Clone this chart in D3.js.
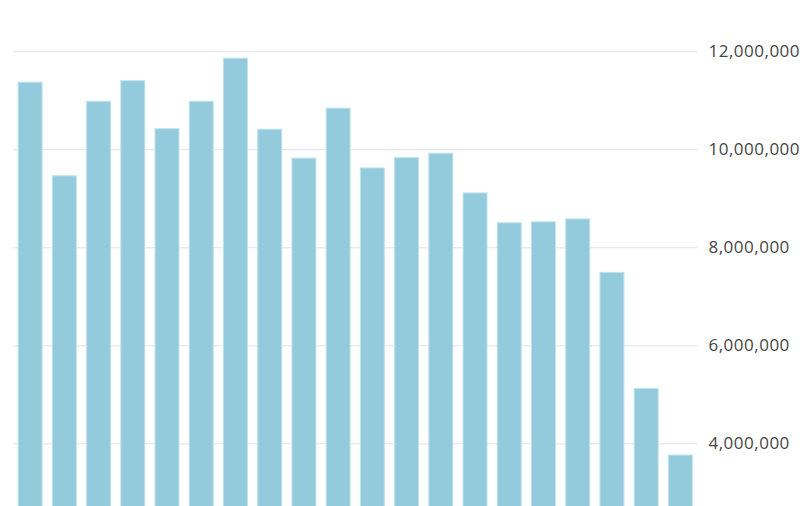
<!DOCTYPE html>
<html>
<head>
<meta charset="utf-8">
<script src="https://d3js.org/d3.v7.min.js"></script>
<style>
  body { margin: 0; background: #fff; }
  .grid line { stroke: #e3e3e3; stroke-width: 1; }
  .grid path { display: none; }
  .ylabels text { font-family: "Open Sans", sans-serif; font-size: 17px; letter-spacing: 0.5px; fill: #454545; }
  .ylabels path, .ylabels line { display: none; }
  rect.bar { fill: #94cbdc; stroke: #bfe3ec; stroke-width: 1; }
</style>
</head>
<body>
<svg width="810" height="506"></svg>
<script>
// one bar per period, left to right
const categories = d3.range(1, 21).map(String);
const values = [
  11370000, 9460000, 10980000, 11400000, 10420000,
  10980000, 11860000, 10410000, 9820000, 10840000,
  9620000, 9830000, 9920000, 9110000, 8500000,
  8520000, 8580000, 7490000, 5120000, 3760000
];
const tickValues = [4000000, 6000000, 8000000, 10000000, 12000000];

const svg = d3.select('svg');

const x = d3.scaleBand().domain(categories).range([13, 697.5])
  .paddingInner(0.3).paddingOuter(0.15);
// baseline sits below the visible area, the picture is cropped there
const y = d3.scaleLinear().domain([2000000, 12000000]).range([541.3, 51.3]);

svg.append('g')
  .attr('class', 'grid')
  .attr('transform', 'translate(13,0)')
  .call(d3.axisLeft(y).tickValues(tickValues).tickSize(-684.5).tickFormat(''));

svg.append('g')
  .selectAll('rect').data(values).enter().append('rect')
  .attr('class', 'bar')
  .attr('x', (d, i) => x(categories[i]))
  .attr('width', x.bandwidth())
  .attr('y', d => y(d))
  .attr('height', d => y(2000000) - y(d));

svg.append('g')
  .attr('class', 'ylabels')
  .attr('transform', 'translate(697.5,0)')
  .call(d3.axisRight(y).tickValues(tickValues).tickSize(0).tickPadding(11)
    .tickFormat(d3.format(',')));
</script>
</body>
</html>
